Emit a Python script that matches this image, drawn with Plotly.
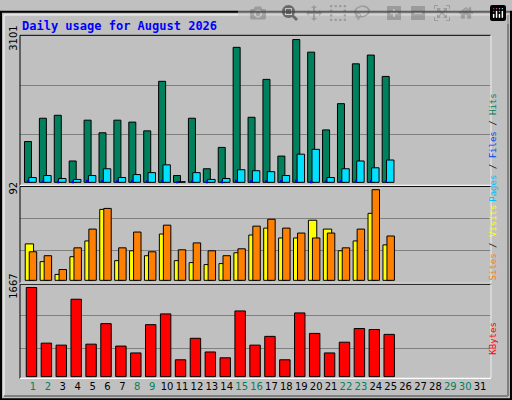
import plotly.graph_objects as go

days = list(range(1, 32))
d25 = list(range(1, 26))
hits = [886,1392,1456,464,1350,1076,1350,1308,1118,2194,148,1392,295,759,2932,1413,2236,570,3101,2827,1139,1709,2574,2764,2300]
files = [105,148,84,63,148,295,105,169,211,380,14,211,63,84,274,253,232,148,612,717,105,295,464,316,485]
pages = [50,45,40,40,55,50,45,50,45,55,10,45,40,40,55,50,45,50,60,40,45,50,55,50,45]
visits = [37,19,6,24,40,72,20,30,25,47,20,18,16,17,28,46,53,43,43,61,52,30,40,68,36]
sites = [29,25,11,33,52,73,33,49,29,56,31,38,30,25,32,55,62,53,48,43,48,33,52,92,45]
kbytes = [1667,627,590,1448,608,992,572,444,973,1174,316,718,462,353,1229,590,754,316,1192,809,444,645,900,882,791]
weekend = {1,2,8,9,15,16,22,23,29,30}
day_labels = [f"<span style='color:{'#00805C' if d in weekend else 'black'}'>{d}</span>" for d in days]

fig = go.Figure()
ln = dict(color="black", width=1)
fig.add_bar(x=d25, y=hits, offset=-0.57, width=0.47, marker=dict(color="#00805C", line=ln), xaxis="x", yaxis="y")
fig.add_bar(x=d25, y=files, offset=-0.28, width=0.5, marker=dict(color="#00E0FF", line=ln), xaxis="x", yaxis="y")
fig.add_bar(x=d25, y=pages, offset=-0.38, width=0.12, marker=dict(color="#0000FF", line=dict(width=0)), xaxis="x", yaxis="y")
fig.add_bar(x=d25, y=visits, offset=-0.52, width=0.56, marker=dict(color="#FFFF00", line=ln), xaxis="x", yaxis="y2")
fig.add_bar(x=d25, y=sites, offset=-0.25, width=0.5, marker=dict(color="#FF8000", line=ln), xaxis="x", yaxis="y2")
fig.add_bar(x=d25, y=kbytes, offset=-0.45, width=0.7, marker=dict(color="#FF0000", line=ln), xaxis="x", yaxis="y3")

xr = [0.13, 31.73]
xd = [20/512, 491/512]
fig.update_layout(
    width=512, height=400, margin=dict(l=0, r=0, t=0, b=0),
    paper_bgcolor="#C0C0C0", plot_bgcolor="#C0C0C0", showlegend=False, barmode="overlay",
    font=dict(family="DejaVu Sans", size=10, color="black"),
    xaxis=dict(domain=xd, range=xr, anchor="y3", tickvals=days, ticktext=day_labels,
               showgrid=False, ticks="", tickfont=dict(size=10), zeroline=False),
    yaxis=dict(domain=[1-179.5/400, 1-25/400], range=[-70, 3193], tickvals=[max(hits)], ticktext=[str(max(hits))],
               tickangle=-90, showgrid=False, zeroline=False, ticks="",
               minor=dict(tickvals=[1034, 2110], showgrid=True, gridcolor="#808080", gridwidth=1)),
    yaxis2=dict(domain=[0.30, 0.549], range=[-3, 95.3], tickvals=[max(sites)], ticktext=[str(max(sites))],
                tickangle=-90, showgrid=False, zeroline=False, ticks="",
                minor=dict(tickvals=[30, 63], showgrid=True, gridcolor="#808080", gridwidth=1)),
    yaxis3=dict(domain=[0.055, 0.2975], range=[-36, 1728], tickvals=[max(kbytes)], ticktext=[str(max(kbytes))],
                tickangle=-90, showgrid=False, zeroline=False, ticks="",
                minor=dict(tickvals=[535, 1138], showgrid=True, gridcolor="#808080", gridwidth=1)),
)
for yd in [[1-179.5/400, 1-25/400], [0.30, 0.549], [0.055, 0.2975]]:
    fig.add_shape(type="rect", xref="paper", yref="paper", x0=xd[0], x1=xd[1], y0=yd[0], y1=yd[1],
                  line=dict(color="black", width=1), layer="above")
    fig.add_shape(type="line", xref="paper", yref="paper", x0=xd[1], x1=xd[1], y0=yd[0], y1=yd[1],
                  line=dict(color="white", width=1.5), layer="above")
    fig.add_shape(type="line", xref="paper", yref="paper", x0=xd[0], x1=xd[1], y0=yd[0], y1=yd[0],
                  line=dict(color="white", width=1.5), layer="above")
# outer border & bevel
fig.add_shape(type="rect", xref="paper", yref="paper", x0=0.002, x1=0.998, y0=0.002, y1=0.998, line=dict(color="black", width=2))
fig.add_shape(type="rect", xref="paper", yref="paper", x0=4/512, x1=508/512, y0=4/400, y1=396/400, line=dict(color="white", width=1))
fig.add_shape(type="line", xref="paper", yref="paper", x0=4/512, x1=508/512, y0=4/400, y1=4/400, line=dict(color="#808080", width=2))
fig.add_shape(type="line", xref="paper", yref="paper", x0=508/512, x1=508/512, y0=4/400, y1=396/400, line=dict(color="#808080", width=2))

mono = "DejaVu Sans Mono"
fig.add_annotation(xref="paper", yref="paper", x=20/512, y=1-15/400, xanchor="left", yanchor="middle", showarrow=False,
                   text="<b>Daily usage for August 2026</b>", font=dict(family=mono, size=12, color="#0000FF"))
def side(text, yc):
    fig.add_annotation(xref="paper", yref="paper", x=500/512, y=1-yc/400, showarrow=False, textangle=-90,
                       text=text, font=dict(family=mono, size=9))
side("<span style='color:#00C0FF'>Pages</span> / <span style='color:#0040FF'>Files</span> / <span style='color:#00805C'>Hits</span>", 83)
side("<span style='color:#FF8000'>Sites</span> / <span style='color:#FFFF00'>Visits</span>", 238)
side("<span style='color:#FF0000'>KBytes</span>", 356)
fig.write_html("out.html", post_script="document.body.style.margin='0';document.body.style.overflow='hidden';")
